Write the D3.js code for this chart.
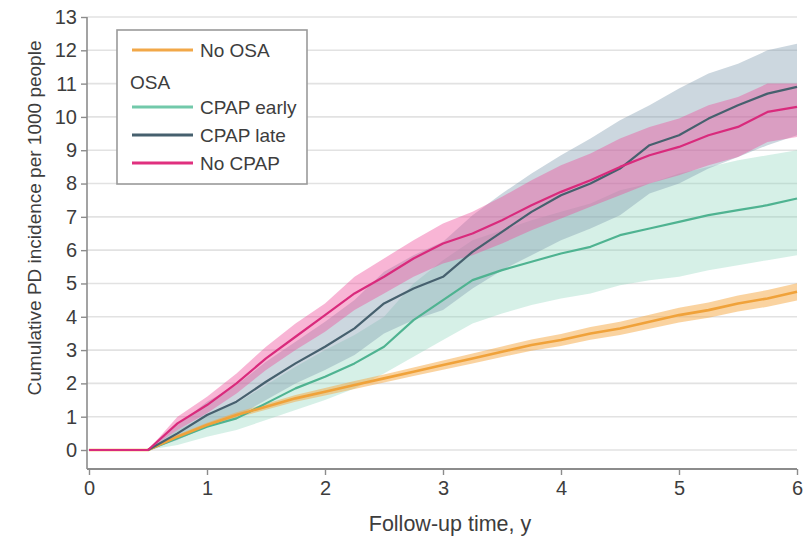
<!DOCTYPE html>
<html>
<head>
<meta charset="utf-8">
<script src="https://cdn.jsdelivr.net/npm/d3@7"></script>
<style>
  html, body { margin: 0; padding: 0; background: #fff; }
  svg { display: block; font-family: "Liberation Sans", Arial, sans-serif; }
</style>
</head>
<body>
<svg id="chart" width="808" height="545"></svg>
<script>
/* ========= Data ========= */
const years = [0, 0.5, 0.75, 1, 1.25, 1.5, 1.75, 2, 2.25, 2.5, 2.75, 3, 3.25, 3.5, 3.75, 4, 4.25, 4.5, 4.75, 5, 5.25, 5.5, 5.75, 6];

const noOsa    = [0, 0, 0.4, 0.75, 1.05, 1.3, 1.55, 1.75, 1.95, 2.15, 2.35, 2.55, 2.75, 2.95, 3.15, 3.3, 3.5, 3.65, 3.85, 4.05, 4.2, 4.4, 4.55, 4.75];
const noOsaLo  = [0, 0, 0.34, 0.68, 0.97, 1.21, 1.45, 1.64, 1.83, 2.03, 2.22, 2.41, 2.6, 2.79, 2.98, 3.12, 3.31, 3.45, 3.64, 3.83, 3.97, 4.16, 4.3, 4.49];
const noOsaHi  = [0, 0, 0.46, 0.82, 1.13, 1.39, 1.65, 1.86, 2.07, 2.27, 2.48, 2.69, 2.9, 3.11, 3.32, 3.48, 3.69, 3.85, 4.06, 4.27, 4.43, 4.64, 4.8, 5.01];

const early    = [0, 0, 0.35, 0.7, 0.95, 1.4, 1.85, 2.2, 2.6, 3.1, 3.9, 4.5, 5.1, 5.4, 5.65, 5.9, 6.1, 6.45, 6.65, 6.85, 7.05, 7.2, 7.35, 7.55];
const earlyLo  = [0, 0, 0.15, 0.4, 0.6, 0.9, 1.2, 1.5, 1.85, 2.3, 2.8, 3.3, 3.8, 4.1, 4.35, 4.55, 4.7, 4.95, 5.1, 5.2, 5.4, 5.55, 5.7, 5.85];
const earlyHi  = [0, 0, 0.6, 1.05, 1.4, 1.95, 2.5, 3.0, 3.45, 4.0, 5.0, 5.7, 6.3, 6.6, 6.9, 7.15, 7.4, 7.8, 8.0, 8.3, 8.5, 8.7, 8.85, 9.0];

const late     = [0, 0, 0.5, 1.05, 1.45, 2.05, 2.6, 3.1, 3.65, 4.4, 4.85, 5.2, 5.95, 6.55, 7.15, 7.65, 8.0, 8.45, 9.15, 9.45, 9.95, 10.35, 10.7, 10.9];
const lateLo   = [0, 0, 0.3, 0.7, 1.0, 1.5, 2.0, 2.4, 2.85, 3.5, 3.9, 4.2, 4.85, 5.4, 5.85, 6.3, 6.65, 7.05, 7.7, 8.0, 8.45, 8.8, 9.15, 9.45];
const lateHi   = [0, 0, 0.75, 1.45, 1.95, 2.65, 3.25, 3.85, 4.5, 5.35, 5.85, 6.25, 7.05, 7.7, 8.3, 8.85, 9.35, 9.9, 10.35, 10.85, 11.3, 11.6, 12.0, 12.2];

const noCpap   = [0, 0, 0.8, 1.35, 2.0, 2.75, 3.4, 4.05, 4.7, 5.2, 5.75, 6.2, 6.5, 6.9, 7.35, 7.75, 8.1, 8.5, 8.85, 9.1, 9.45, 9.7, 10.15, 10.3];
const noCpapLo = [0, 0, 0.6, 1.1, 1.7, 2.4, 3.0, 3.55, 4.2, 4.7, 5.2, 5.6, 5.85, 6.2, 6.6, 6.95, 7.3, 7.65, 8.0, 8.25, 8.55, 8.8, 9.25, 9.4];
const noCpapHi = [0, 0, 1.0, 1.6, 2.3, 3.1, 3.8, 4.4, 5.2, 5.75, 6.3, 6.8, 7.15, 7.6, 8.1, 8.55, 8.9, 9.35, 9.7, 9.95, 10.35, 10.6, 11.0, 11.0];

const xTicks = [0, 1, 2, 3, 4, 5, 6];
const yTicks = d3.range(0, 14);

/* ========= Palette ========= */
const cText = "#3d3d3d";
const cAxis = "#8c8c8c";
const cGrid = "#e2e2e2";

const series = [
  { name: "CPAP early", v: early,  lo: earlyLo,  hi: earlyHi,  line: "#4fb391", legend: "#72c9aa", band: "#8ed6bd", bandOp: 0.36 },
  { name: "CPAP late",  v: late,   lo: lateLo,   hi: lateHi,   line: "#46606e", legend: "#46606e", band: "#7f9bb0", bandOp: 0.40 },
  { name: "No CPAP",    v: noCpap, lo: noCpapLo, hi: noCpapHi, line: "#d92a7c", legend: "#e0307f", band: "#ee4f9a", bandOp: 0.42 },
  { name: "No OSA",     v: noOsa,  lo: noOsaLo,  hi: noOsaHi,  line: "#f0a23a", legend: "#f2a848", band: "#f5a742", bandOp: 0.5 }
];

/* ========= Layout ========= */
const svg = d3.select("#chart");
const x = d3.scaleLinear().domain([0, 6]).range([89, 797]);
const y = d3.scaleLinear().domain([0, 13]).range([450, 17]);
const axisY = 469;   // x-axis baseline
const axisX = 87;    // y-axis line

// gridlines
svg.append("g").selectAll("line").data(yTicks).join("line")
  .attr("x1", axisX).attr("x2", 797)
  .attr("y1", d => y(d)).attr("y2", d => y(d))
  .attr("stroke", cGrid).attr("stroke-width", 1.6);

// bands
const plot = svg.append("g");
series.forEach(s => {
  const area = d3.area()
    .x((d, i) => x(years[i]))
    .y0((d, i) => y(s.lo[i]))
    .y1((d, i) => y(s.hi[i]));
  plot.append("path").datum(s.v)
    .attr("d", area)
    .attr("fill", s.band).attr("fill-opacity", s.bandOp);
});

// lines
const drawOrder = [0, 3, 1, 2];
drawOrder.forEach(k => {
  const s = series[k];
  const line = d3.line().x((d, i) => x(years[i])).y(d => y(d));
  plot.append("path").datum(s.v)
    .attr("d", line)
    .attr("fill", "none").attr("stroke", s.line)
    .attr("stroke-width", k === 3 ? 2.6 : 2.2)
    .attr("stroke-linejoin", "round");
});

// y axis
const gy = svg.append("g").attr("transform", `translate(${axisX},0)`)
  .call(d3.axisLeft(y).tickValues(yTicks).tickFormat(d3.format("d")).tickSize(6).tickPadding(4));
gy.select(".domain").attr("d", `M0,${y(13)}V${axisY}`).attr("stroke", cAxis).attr("stroke-width", 1.6);
gy.selectAll(".tick line").attr("stroke", cAxis).attr("stroke-width", 1.4);
gy.selectAll(".tick text").attr("fill", cText).attr("font-size", 20).attr("font-family", "Liberation Sans, Arial, sans-serif");

// x axis
const gx = svg.append("g").attr("transform", `translate(0,${axisY})`)
  .call(d3.axisBottom(x).tickValues(xTicks).tickFormat(d3.format("d")).tickSize(6).tickPadding(6));
gx.select(".domain").attr("d", `M${axisX},0H797`).attr("stroke", cAxis).attr("stroke-width", 2);
gx.selectAll(".tick line").attr("stroke", cAxis).attr("stroke-width", 1.4);
gx.selectAll(".tick text").attr("fill", cText).attr("font-size", 20).attr("font-family", "Liberation Sans, Arial, sans-serif");

// axis titles
svg.append("text")
  .attr("x", 450).attr("y", 531)
  .attr("text-anchor", "middle").attr("fill", cText).attr("font-size", 21.5)
  .text("Follow-up time, y");

svg.append("text")
  .attr("transform", "translate(41,218) rotate(-90)")
  .attr("text-anchor", "middle").attr("fill", cText).attr("font-size", 19)
  .text("Cumulative PD incidence per 1000 people");

/* ========= Legend ========= */
const legend = svg.append("g");
legend.append("rect")
  .attr("x", 117).attr("y", 30).attr("width", 190).attr("height", 154)
  .attr("fill", "#fff").attr("stroke", "#9a9a9a").attr("stroke-width", 1.6);

const legendRows = [
  { label: "No OSA", color: series[3].legend, y: 50 },
  { label: "OSA", color: null, y: 82 },
  { label: "CPAP early", color: series[0].legend, y: 107 },
  { label: "CPAP late", color: series[1].legend, y: 135 },
  { label: "No CPAP", color: series[2].legend, y: 163 }
];
legendRows.forEach(r => {
  if (r.color) {
    legend.append("line")
      .attr("x1", 132).attr("x2", 193).attr("y1", r.y).attr("y2", r.y)
      .attr("stroke", r.color).attr("stroke-width", 3.2);
  }
  legend.append("text")
    .attr("x", r.color ? 200 : 130).attr("y", r.y + 7)
    .attr("fill", cText).attr("font-size", 19)
    .text(r.label);
});
</script>
</body>
</html>
